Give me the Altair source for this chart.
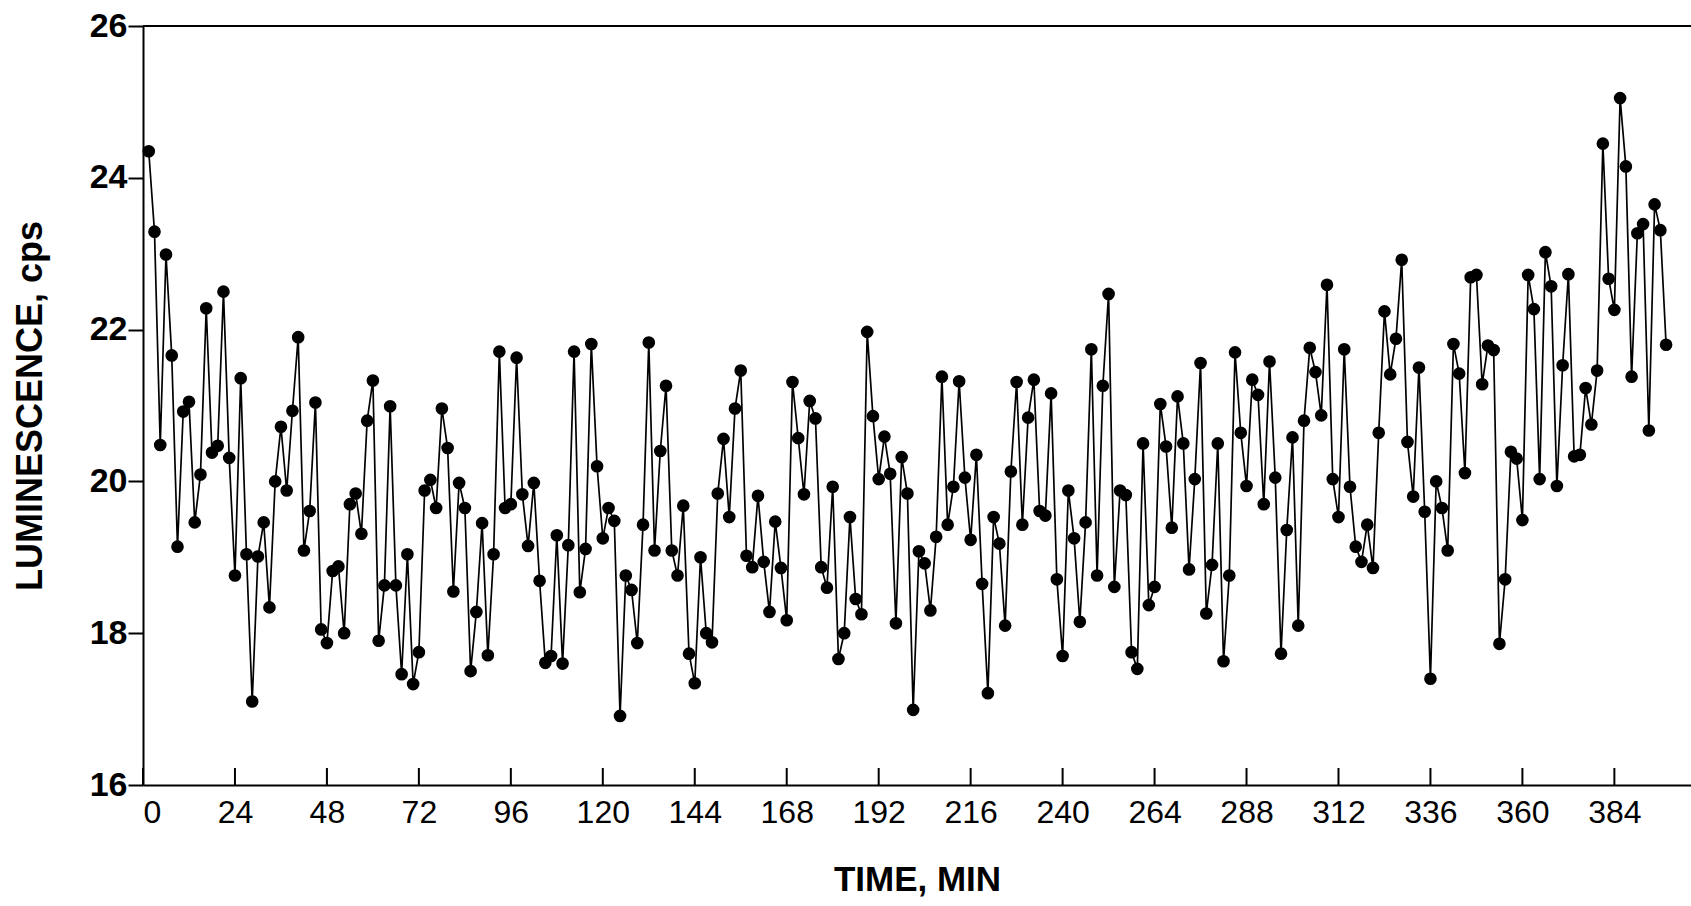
import altair as alt
import pandas as pd

# Sampling: one reading every 1.5 min, starting at 1.5 min
STEP_MIN = 1.5
LUMINESCENCE = [
    24.35, 23.29, 20.48, 22.99, 21.66, 19.14, 20.92, 21.05, 19.46, 20.09,
    22.28, 20.38, 20.47, 22.50, 20.31, 18.76, 21.36, 19.04, 17.10, 19.01,
    19.46, 18.34, 20.00, 20.72, 19.88, 20.93, 21.90, 19.09, 19.61, 21.04,
    18.05, 17.87, 18.82, 18.88, 18.00, 19.70, 19.84, 19.31, 20.80, 21.33,
    17.90, 18.63, 20.99, 18.63, 17.46, 19.04, 17.33, 17.75, 19.88, 20.02,
    19.65, 20.96, 20.44, 18.55, 19.98, 19.65, 17.50, 18.28, 19.45, 17.71,
    19.04, 21.71, 19.65, 19.70, 21.63, 19.83, 19.15, 19.98, 18.69, 17.61,
    17.70, 19.29, 17.60, 19.16, 21.71, 18.54, 19.11, 21.81, 20.20, 19.25,
    19.65, 19.48, 16.91, 18.76, 18.57, 17.87, 19.43, 21.83, 19.09, 20.40,
    21.26, 19.09, 18.76, 19.68, 17.73, 17.34, 19.00, 18.00, 17.88, 19.84,
    20.56, 19.53, 20.96, 21.46, 19.02, 18.87, 19.81, 18.94, 18.28, 19.47,
    18.86, 18.17, 21.31, 20.57, 19.83, 21.06, 20.83, 18.87, 18.60, 19.93,
    17.66, 18.00, 19.53, 18.45, 18.25, 21.97, 20.86, 20.03, 20.59, 20.10,
    18.13, 20.32, 19.84, 16.99, 19.08, 18.92, 18.30, 19.27, 21.38, 19.43,
    19.93, 21.32, 20.05, 19.23, 20.35, 18.65, 17.21, 19.53, 19.18, 18.10,
    20.13, 21.31, 19.43, 20.84, 21.34, 19.61, 19.55, 21.16, 18.71, 17.70,
    19.88, 19.25, 18.15, 19.46, 21.74, 18.76, 21.26, 22.47, 18.61, 19.88,
    19.82, 17.75, 17.53, 20.50, 18.37, 18.61, 21.02, 20.46, 19.39, 21.12,
    20.50, 18.84, 20.03, 21.56, 18.26, 18.90, 20.50, 17.63, 18.76, 21.70,
    20.64, 19.94, 21.34, 21.14, 19.70, 21.58, 20.05, 17.73, 19.36, 20.58,
    18.10, 20.80, 21.76, 21.44, 20.87, 22.59, 20.03, 19.53, 21.74, 19.93,
    19.14, 18.94, 19.43, 18.86, 20.64, 22.24, 21.41, 21.88, 22.92, 20.52,
    19.80, 21.50, 19.60, 17.40, 20.00, 19.65, 19.09, 21.81, 21.42, 20.11,
    22.69, 22.72, 21.28, 21.79, 21.73, 17.86, 18.71, 20.39, 20.30, 19.49,
    22.72, 22.27, 20.03, 23.02, 22.57, 19.94, 21.53, 22.73, 20.33, 20.35,
    21.23, 20.75, 21.46, 24.45, 22.67, 22.26, 25.05, 24.15, 21.38, 23.27,
    23.39, 20.67, 23.65, 23.31, 21.80,
]
TIME_MIN = [round(STEP_MIN * (k + 1), 1) for k in range(len(LUMINESCENCE))]

X_TICKS = [0, 24, 48, 72, 96, 120, 144, 168, 192, 216, 240, 264, 288, 312, 336, 360, 384]
Y_TICKS = [16, 18, 20, 22, 24, 26]

df = pd.DataFrame({"t": TIME_MIN, "v": LUMINESCENCE})
ticks_df = pd.DataFrame({"t": X_TICKS})

W, H = 1548, 759
FONT = "Liberation Sans"

x_scale = alt.Scale(domain=[0, 404], nice=False, zero=False)
y_scale = alt.Scale(domain=[16, 26], nice=False, zero=False)

x_axis = alt.Axis(
    values=X_TICKS, format="d", ticks=False, grid=False, domainWidth=2, domainColor="black",
    labelFont=FONT, labelFontSize=32, labelFontWeight="normal", labelColor="black",
    labelPadding=12, title="TIME, MIN", titleFont=FONT, titleFontSize=35,
    titleFontWeight="bold", titleColor="black", titlePadding=34,
)
y_axis = alt.Axis(
    values=Y_TICKS, format="d", grid=False, tickSize=15, tickWidth=2, tickColor="black",
    domainWidth=2, domainColor="black", labelFont=FONT, labelFontSize=34,
    labelFontWeight="bold", labelColor="black", labelPadding=1,
    title="LUMINESCENCE, cps", titleFont=FONT, titleFontSize=36,
    titleFontWeight="bold", titleColor="black", titlePadding=40,
)

line = alt.Chart(df).mark_line(color="black", strokeWidth=1.7).encode(
    x=alt.X("t:Q", scale=x_scale, axis=x_axis),
    y=alt.Y("v:Q", scale=y_scale, axis=y_axis),
)
pts = alt.Chart(df).mark_circle(color="black", opacity=1, size=160).encode(
    x=alt.X("t:Q", scale=x_scale),
    y=alt.Y("v:Q", scale=y_scale),
)
xticks = alt.Chart(ticks_df).mark_rule(color="black", strokeWidth=2).encode(
    x=alt.X("t:Q", scale=x_scale),
    y=alt.value(H),
    y2=alt.value(H - 17),
)
top_line = alt.Chart(ticks_df).mark_rule(color="black", strokeWidth=2).encode(
    x=alt.value(0), x2=alt.value(W), y=alt.value(0)
)

chart = alt.layer(line, pts, xticks, top_line).properties(
    width=W, height=H,
    autosize=alt.AutoSizeParams(type="none"),
    padding={"left": 143, "top": 26, "right": 0, "bottom": 121},
).configure_view(stroke=None).configure(background="white")

chart.save("out.html", embed_options={"renderer": "svg", "actions": False})
